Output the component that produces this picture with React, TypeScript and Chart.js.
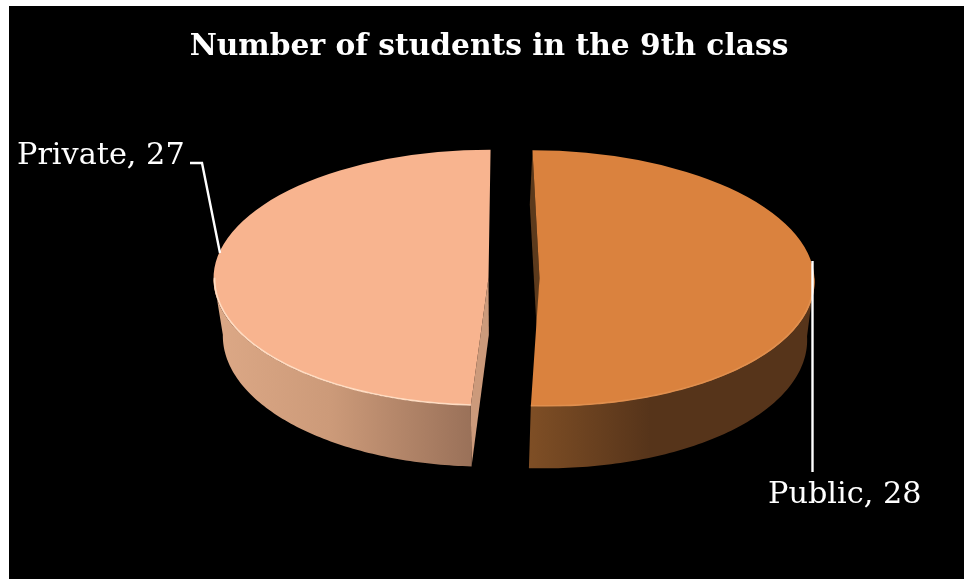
import React, { useEffect, useRef } from "react";
import { Chart, registerables } from "chart.js";

Chart.register(...registerables);

const categories = ["Public", "Private"];
const students = [28, 27];
const topColors = ["#DA823E", "#F8B48F"];
const rimColors = ["#E08F4E", "#FFDCC2"];
const wallStops = [
  [["#7E4E25", 0], ["#56341A", 0.42], ["#56341A", 1]],
  [["#DCA886", 0], ["#CC9A79", 0.45], ["#9A7159", 1]],
];
const cutColors = ["#5C3A1C", "#CC9A7B"];
const titleText = "Number of students in the 9th class";

const WIDTH = 955;
const HEIGHT = 573;
const FONT = "'DejaVu Serif', serif";

// Screen geometry of the tilted disc: upper face and lower rim.
const TOP = { cx: 505.5, cy: 272, rx: 275, ry: 128 };
const BOTTOM = [
  { cx: 503.5, cy: 330, rx: 270, ry: 132 },
  { cx: 505, cy: 329, rx: 266, ry: 132 },
];
const SHEAR = [0.055, -0.016];
const NUDGE = [0, -1];
const EXPLODE = 25; // on-screen pull of each slice away from the centre

type Ellipse = { cx: number; cy: number; rx: number; ry: number };

// Pull of a slice, expressed in the arc element's own untilted units.
function pull(arc: any) {
  const mid = (arc.startAngle + arc.endAngle) / 2;
  const k = (EXPLODE * arc.outerRadius) / TOP.rx;
  return { ox: k * Math.cos(mid), oy: k * Math.sin(mid) };
}

// Maps a point on an arc element to its place on the tilted ellipse.
function project(arc: any, i: number, angle: number, r: number, e: Ellipse) {
  const { ox, oy } = pull(arc);
  const sx = e.rx / arc.outerRadius;
  const sy = e.ry / arc.outerRadius;
  const u = ox + r * Math.cos(angle);
  const v = oy + r * Math.sin(angle);
  return {
    x: e.cx + NUDGE[i] + sx * u + SHEAR[i] * sy * v,
    y: e.cy + sy * v,
  };
}

function wallFill(ctx: CanvasRenderingContext2D, i: number) {
  const g =
    i === 0
      ? ctx.createLinearGradient(522, 0, 806, 0)
      : ctx.createLinearGradient(207, 0, 462, 0);
  wallStops[i].forEach(([c, s]) => g.addColorStop(s as number, c as string));
  return g;
}

function drawSolid(ctx: CanvasRenderingContext2D, arc: any, i: number) {
  const R = arc.outerRadius;
  const lo = BOTTOM[i];
  const top = (a: number, r = R) => project(arc, i, a, r, TOP);
  const bot = (a: number, r = R) => project(arc, i, a, r, lo);

  // Face exposed by pulling the slice away from the centre.
  const cutPts = [top(arc.startAngle), top(arc.startAngle, 0), bot(arc.startAngle, 0), bot(arc.startAngle)];
  ctx.fillStyle = cutColors[i];
  ctx.beginPath();
  cutPts.forEach((p, k) => (k ? ctx.lineTo(p.x, p.y) : ctx.moveTo(p.x, p.y)));
  ctx.closePath();
  ctx.fill();

  // Curved wall on the near side of the disc.
  const from = i === 0 ? 0 : arc.startAngle;
  const to = i === 0 ? arc.endAngle : Math.PI;
  const steps = 90;
  ctx.fillStyle = wallFill(ctx, i);
  ctx.beginPath();
  for (let k = 0; k <= steps; k++) {
    const p = top(from + ((to - from) * k) / steps);
    k ? ctx.lineTo(p.x, p.y) : ctx.moveTo(p.x, p.y);
  }
  for (let k = steps; k >= 0; k--) {
    const p = bot(from + ((to - from) * k) / steps);
    ctx.lineTo(p.x, p.y);
  }
  ctx.closePath();
  ctx.fill();

  // Upper face, drawn by the arc element under the tilt transform.
  const sx = TOP.rx / R;
  const sy = TOP.ry / R;
  const c = SHEAR[i] * sy;
  const { ox, oy } = pull(arc);
  ctx.save();
  ctx.transform(
    sx,
    0,
    c,
    sy,
    TOP.cx + NUDGE[i] - sx * (arc.x - ox) - c * (arc.y - oy),
    TOP.cy - sy * (arc.y - oy)
  );
  arc.draw(ctx);
  ctx.restore();

  // Bright rim along the near edge of the upper face.
  ctx.strokeStyle = rimColors[i];
  ctx.lineWidth = 1.6;
  ctx.beginPath();
  for (let k = 0; k <= steps; k++) {
    const p = top(from + ((to - from) * k) / steps, R - 1);
    k ? ctx.lineTo(p.x, p.y) : ctx.moveTo(p.x, p.y);
  }
  ctx.stroke();
}

const disc3d = {
  id: "disc3d",
  beforeDatasetDraw(chart: any) {
    const ctx = chart.ctx;
    chart.getDatasetMeta(0).data.forEach((arc: any, i: number) => {
      ctx.save();
      drawSolid(ctx, arc, i);
      ctx.restore();
    });
    return false;
  },
  afterDatasetsDraw(chart: any) {
    const ctx = chart.ctx;
    ctx.save();
    ctx.strokeStyle = "#FFFFFF";
    ctx.fillStyle = "#FFFFFF";
    ctx.lineWidth = 2.4;
    ctx.beginPath();
    ctx.moveTo(803.5, 255);
    ctx.lineTo(803.5, 466);
    ctx.stroke();
    ctx.beginPath();
    ctx.moveTo(181, 157);
    ctx.lineTo(193, 157);
    ctx.lineTo(211, 247);
    ctx.stroke();
    ctx.font = `30.3px ${FONT}`;
    ctx.textBaseline = "alphabetic";
    ctx.textAlign = "left";
    ctx.fillText(`${categories[0]}, ${students[0]}`, 759, 497);
    ctx.fillText(`${categories[1]}, ${students[1]}`, 8, 158);
    ctx.restore();
  },
};

export default function App() {
  const ref = useRef<HTMLCanvasElement>(null);
  useEffect(() => {
    const chart = new Chart(ref.current as HTMLCanvasElement, {
      type: "pie",
      data: {
        labels: categories,
        datasets: [
          {
            data: students,
            backgroundColor: topColors,
            borderWidth: 0,
          },
        ],
      },
      options: {
        animation: false,
        responsive: false,
        rotation: 0,
        layout: { padding: { left: 5 } },
        plugins: {
          legend: { display: false },
          tooltip: { enabled: false },
          title: {
            display: true,
            text: titleText,
            color: "#FFFFFF",
            font: { family: FONT, size: 29.7, weight: "bold" },
            padding: { top: 23, bottom: 10 },
          },
        },
      },
      plugins: [disc3d],
    } as any);
    return () => chart.destroy();
  }, []);
  return (
    <canvas
      ref={ref}
      width={WIDTH}
      height={HEIGHT}
      style={{
        position: "absolute",
        left: 9,
        top: 6,
        width: WIDTH,
        height: HEIGHT,
        background: "#000000",
      }}
    />
  );
}
